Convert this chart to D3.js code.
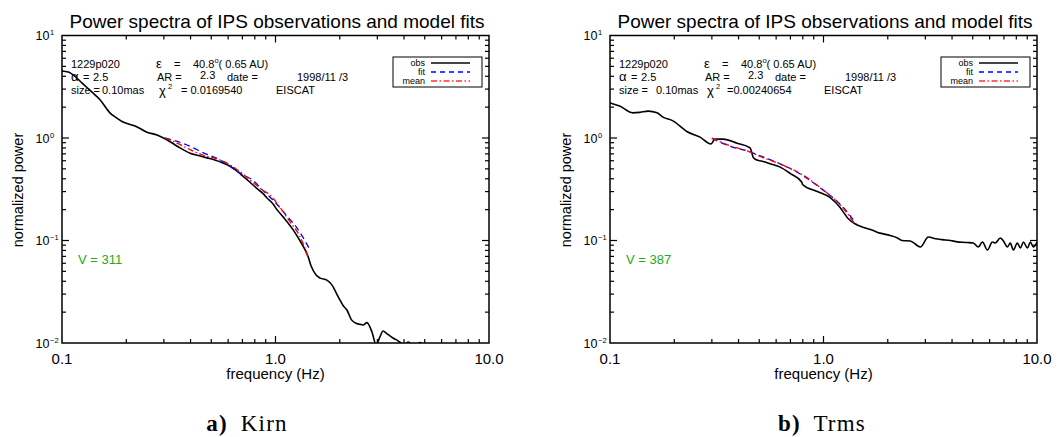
<!DOCTYPE html>
<html>
<head>
<meta charset="utf-8">
<script src="https://cdn.jsdelivr.net/npm/d3@7"></script>
<style>
  body { margin: 0; background: #fff; }
  svg { display: block; }
</style>
</head>
<body>
<script>
// axis ticks
const xMajor = [0.1, 1, 10];
const xMajorLabels = ['0.1', '1.0', '10.0'];
const yExponents = [1, 0, -1, -2];

// a) Kirn : observed spectrum, fit and mean model  [frequency Hz, normalized power]
const kirnObs = [
  [0.100, 4.5], [0.107, 4.4], [0.115, 4.0], [0.124, 3.45], [0.137, 2.85], [0.151, 2.35],
  [0.168, 1.75], [0.180, 1.57], [0.193, 1.43], [0.210, 1.35], [0.225, 1.28], [0.250, 1.14],
  [0.279, 1.07], [0.310, 0.96], [0.335, 0.87], [0.357, 0.80], [0.398, 0.71], [0.440, 0.67],
  [0.477, 0.64], [0.520, 0.61], [0.567, 0.57], [0.632, 0.51], [0.690, 0.44], [0.760, 0.37],
  [0.820, 0.32], [0.870, 0.29], [0.913, 0.26], [0.970, 0.23], [1.016, 0.20], [1.085, 0.17],
  [1.140, 0.15], [1.210, 0.127], [1.300, 0.100], [1.420, 0.070], [1.470, 0.056], [1.550, 0.046],
  [1.620, 0.043], [1.740, 0.041], [1.840, 0.0367], [1.970, 0.028], [2.080, 0.023], [2.160, 0.021],
  [2.270, 0.0168], [2.400, 0.0155], [2.490, 0.0152], [2.570, 0.0150], [2.680, 0.0158], [2.830, 0.0128],
  [2.960, 0.0096], [3.080, 0.0114], [3.190, 0.0131], [3.330, 0.0123], [3.550, 0.0112], [3.750, 0.0105],
  [3.910, 0.0099], [4.050, 0.0097], [4.180, 0.0102], [4.360, 0.0097], [4.550, 0.0096], [4.750, 0.0101],
  [4.950, 0.0094], [5.300, 0.0090]
];
const kirnFit = [
  [0.304, 1.0], [0.350, 0.92], [0.398, 0.83], [0.457, 0.72], [0.550, 0.61], [0.610, 0.53],
  [0.700, 0.44], [0.780, 0.39], [0.870, 0.31], [0.970, 0.25], [1.140, 0.17], [1.260, 0.133],
  [1.450, 0.081]
];
const kirnMean = [
  [0.304, 1.0], [0.350, 0.88], [0.398, 0.77], [0.457, 0.68], [0.550, 0.61], [0.610, 0.55],
  [0.700, 0.45], [0.760, 0.39], [0.870, 0.31], [0.940, 0.28], [1.050, 0.21], [1.170, 0.152],
  [1.300, 0.11], [1.400, 0.075], [1.420, 0.068]
];

// b) Trms
const trmsObs = [
  [0.100, 2.2], [0.111, 2.05], [0.128, 1.76], [0.138, 1.78], [0.151, 1.83], [0.166, 1.76],
  [0.177, 1.60], [0.197, 1.47], [0.230, 1.15], [0.264, 1.02], [0.297, 0.875], [0.310, 0.975],
  [0.339, 0.975], [0.394, 0.89], [0.453, 0.80], [0.470, 0.64], [0.488, 0.61], [0.522, 0.59],
  [0.563, 0.56], [0.627, 0.52], [0.700, 0.45], [0.790, 0.372], [0.800, 0.35], [0.935, 0.30],
  [1.075, 0.262], [1.196, 0.21], [1.300, 0.165], [1.410, 0.145], [1.530, 0.135], [1.710, 0.125],
  [1.840, 0.118], [2.050, 0.112], [2.220, 0.106], [2.340, 0.100], [2.550, 0.099], [2.840, 0.0864],
  [3.100, 0.108], [3.350, 0.104], [3.600, 0.102], [3.930, 0.100], [4.240, 0.097], [4.500, 0.096],
  [4.720, 0.0955], [5.030, 0.0945], [5.310, 0.0864], [5.550, 0.0967], [5.860, 0.0808], [6.180, 0.0967],
  [6.380, 0.0945], [6.730, 0.1058], [6.960, 0.0989], [7.270, 0.0864], [7.500, 0.0945], [7.750, 0.0808],
  [8.090, 0.0945], [8.360, 0.0844], [8.640, 0.0967], [9.020, 0.0844], [9.310, 0.0967], [9.620, 0.0864],
  [10.00, 0.0967]
];
const trmsFit = [
  [0.300, 0.99], [0.378, 0.81], [0.439, 0.75], [0.505, 0.67], [0.627, 0.56], [0.800, 0.43],
  [0.997, 0.31], [1.160, 0.24], [1.290, 0.19], [1.420, 0.146]
];
const trmsMean = [
  [0.300, 1.0], [0.378, 0.82], [0.439, 0.75], [0.505, 0.66], [0.627, 0.557], [0.800, 0.436],
  [0.997, 0.311], [1.160, 0.238], [1.290, 0.185], [1.400, 0.145]
];

// header texts
const sourceName = '1229p020';
const elongation = ['40.8', '0.65'];
const alphaValue = '2.5';
const axialRatio = '2.3';
const obsDate = '1998/11 /3';
const sourceSize = '0.10mas';
const chiSquared = ['0.0169540', '0.00240654'];
const station = 'EISCAT';
const velocities = ['V = 311', 'V = 387'];
const captions = [['a)', 'Kirn'], ['b)', 'Trms']];
const legendNames = ['obs', 'fit', 'mean'];

const W = 1060, H = 437;
const svg = d3.select('body').append('svg').attr('width', W).attr('height', H)
  .style('font-family', '"Liberation Sans", Arial, Helvetica, sans-serif');

const panels = [
  { ox: 62, obs: kirnObs, fit: kirnFit, mean: kirnMean, chi: chiSquared[0], v: velocities[0], cap: captions[0], sizeX: 40, chiX: 119, capX: 247 },
  { ox: 610, obs: trmsObs, fit: trmsFit, mean: trmsMean, chi: chiSquared[1], v: velocities[1], cap: captions[1], sizeX: 46, chiX: 117, capX: 822 }
];

const pw = 427, plotTop = 35.5, plotBottom = 343;

panels.forEach((p, i) => {
  const ox = p.ox;
  const g = svg.append('g');
  const x = d3.scaleLog().domain([0.1, 10]).range([ox, ox + pw]);
  const y = d3.scaleLog().domain([0.01, 10]).range([plotBottom, plotTop]);

  const clipId = 'clip' + i;
  svg.append('clipPath').attr('id', clipId).append('rect')
    .attr('x', ox).attr('y', plotTop).attr('width', pw).attr('height', plotBottom - plotTop);

  const line = d3.line().x(d => x(d[0])).y(d => y(d[1])).curve(d3.curveMonotoneX);
  const curves = g.append('g').attr('clip-path', `url(#${clipId})`);
  curves.append('path').datum(p.obs).attr('d', line)
    .attr('fill', 'none').attr('stroke', '#000').attr('stroke-width', 1.6);
  curves.append('path').datum(p.fit).attr('d', line)
    .attr('fill', 'none').attr('stroke', '#0000ff').attr('stroke-width', 1.3).attr('stroke-dasharray', '6,4');
  curves.append('path').datum(p.mean).attr('d', line)
    .attr('fill', 'none').attr('stroke', '#ff0000').attr('stroke-width', 1.3).attr('stroke-dasharray', '6,2.5,1.5,2.5');

  // frame
  g.append('rect').attr('x', ox).attr('y', plotTop).attr('width', pw).attr('height', plotBottom - plotTop)
    .attr('fill', 'none').attr('stroke', '#000').attr('stroke-width', 1.5);

  // x ticks
  const xMinor = [];
  [0.1, 1].forEach(d => { for (let m = 2; m <= 9; m++) xMinor.push(m * d); });
  const ticks = g.append('g').attr('stroke', '#000').attr('stroke-width', 1.2);
  xMinor.forEach(v => {
    ticks.append('line').attr('x1', x(v)).attr('x2', x(v)).attr('y1', plotBottom).attr('y2', plotBottom - 4);
    ticks.append('line').attr('x1', x(v)).attr('x2', x(v)).attr('y1', plotTop).attr('y2', plotTop + 4);
  });
  ticks.append('line').attr('x1', x(1)).attr('x2', x(1)).attr('y1', plotBottom).attr('y2', plotBottom - 7);
  ticks.append('line').attr('x1', x(1)).attr('x2', x(1)).attr('y1', plotTop).attr('y2', plotTop + 7);

  // y ticks
  const yMinor = [];
  [0.01, 0.1, 1].forEach(d => { for (let m = 2; m <= 9; m++) yMinor.push(m * d); });
  yMinor.forEach(v => {
    ticks.append('line').attr('x1', ox).attr('x2', ox + 4).attr('y1', y(v)).attr('y2', y(v));
    ticks.append('line').attr('x1', ox + pw).attr('x2', ox + pw - 4).attr('y1', y(v)).attr('y2', y(v));
  });
  [0.1, 1].forEach(v => {
    ticks.append('line').attr('x1', ox).attr('x2', ox + 7).attr('y1', y(v)).attr('y2', y(v));
    ticks.append('line').attr('x1', ox + pw).attr('x2', ox + pw - 7).attr('y1', y(v)).attr('y2', y(v));
  });

  // tick labels
  xMajor.forEach((v, k) => {
    g.append('text').attr('x', x(v)).attr('y', 364).attr('text-anchor', 'middle')
      .attr('font-size', 15).text(xMajorLabels[k]);
  });
  yExponents.forEach(e => {
    const yy = y(Math.pow(10, e));
    g.append('text').attr('x', ox - 12.5).attr('y', yy + 4.5).attr('text-anchor', 'end')
      .attr('font-size', 12.5).text('10');
    g.append('text').attr('x', ox - 12).attr('y', yy - 0.5).attr('font-size', 7.5)
      .text(e < 0 ? '\u2212' + (-e) : String(e));
  });

  // axis titles
  g.append('text').attr('x', ox + pw / 2).attr('y', 379).attr('text-anchor', 'middle')
    .attr('font-size', 15).text('frequency (Hz)');
  g.append('text').attr('transform', `translate(${ox - 39},190) rotate(-90)`)
    .attr('text-anchor', 'middle').attr('font-size', 14.5).text('normalized power');
  g.append('text').attr('x', ox + pw / 2 + 1.5).attr('y', 28).attr('text-anchor', 'middle')
    .attr('font-size', 19).text('Power spectra of IPS observations and model fits');

  // header block
  const t = (dx, yy, s) => g.append('text').attr('x', ox + dx).attr('y', yy).attr('font-size', 11).text(s);
  const r1 = 68, r2 = 81, r3 = 94;
  t(9, r1, sourceName);
  t(94, r1, '\u03b5').attr('font-size', 13);
  t(112, r1, '=');
  const eps = t(131, r1, elongation[0]);
  eps.append('tspan').attr('dy', -5).attr('font-size', 7.5).text('o');
  eps.append('tspan').attr('dy', 5).text('( ' + elongation[1] + '  AU)');

  t(9, r2, '\u03b1').attr('font-size', 13);
  t(21, r2, '=');
  t(31, r2, alphaValue);
  t(95, r2, 'AR =');
  t(138, r2 - 2, axialRatio);
  t(165, r2, 'date =');
  t(235, r2, obsDate);

  t(9, r3, 'size =');
  t(p.sizeX, r3, sourceSize);
  t(97, r3 + 1, '\u03c7').attr('font-size', 13);
  t(106, r3 - 5, '2').attr('font-size', 7.5);
  t(p.chiX, r3, (i === 0 ? '= ' : '=') + p.chi);
  t(214, r3, station);

  // velocity
  g.append('text').attr('x', ox + 16).attr('y', 264).attr('font-size', 13)
    .attr('fill', '#22aa22').text(p.v);

  // legend
  const lx = ox + 331, ly = 57;
  g.append('rect').attr('x', lx).attr('y', ly).attr('width', 89).attr('height', 30)
    .attr('fill', '#fff').attr('stroke', '#000').attr('stroke-width', 1);
  const legStyles = [
    { c: '#444', w: 2, dash: null },
    { c: '#0000ff', w: 1.3, dash: '5,4' },
    { c: '#ff3333', w: 1.5, dash: '6,2.5,1.5,2.5' }
  ];
  legendNames.forEach((n, k) => {
    const yy = ly + 9 + k * 9;
    g.append('text').attr('x', lx + 32).attr('y', yy).attr('text-anchor', 'end')
      .attr('font-size', 9).text(n);
    g.append('line').attr('x1', lx + 38).attr('x2', lx + 77).attr('y1', yy - 3).attr('y2', yy - 3)
      .attr('stroke', legStyles[k].c).attr('stroke-width', legStyles[k].w)
      .attr('stroke-dasharray', legStyles[k].dash);
  });

  // caption
  const cap = svg.append('text').attr('x', p.capX).attr('y', 431)
    .attr('text-anchor', 'middle').attr('font-size', 23)
    .style('font-family', '"Liberation Serif", "Times New Roman", serif')
    .attr('letter-spacing', 1.2).attr('word-spacing', 6);
  cap.append('tspan').attr('font-weight', 'bold').text(p.cap[0]);
  cap.append('tspan').text(' ' + p.cap[1]);
});
</script>
</body>
</html>
